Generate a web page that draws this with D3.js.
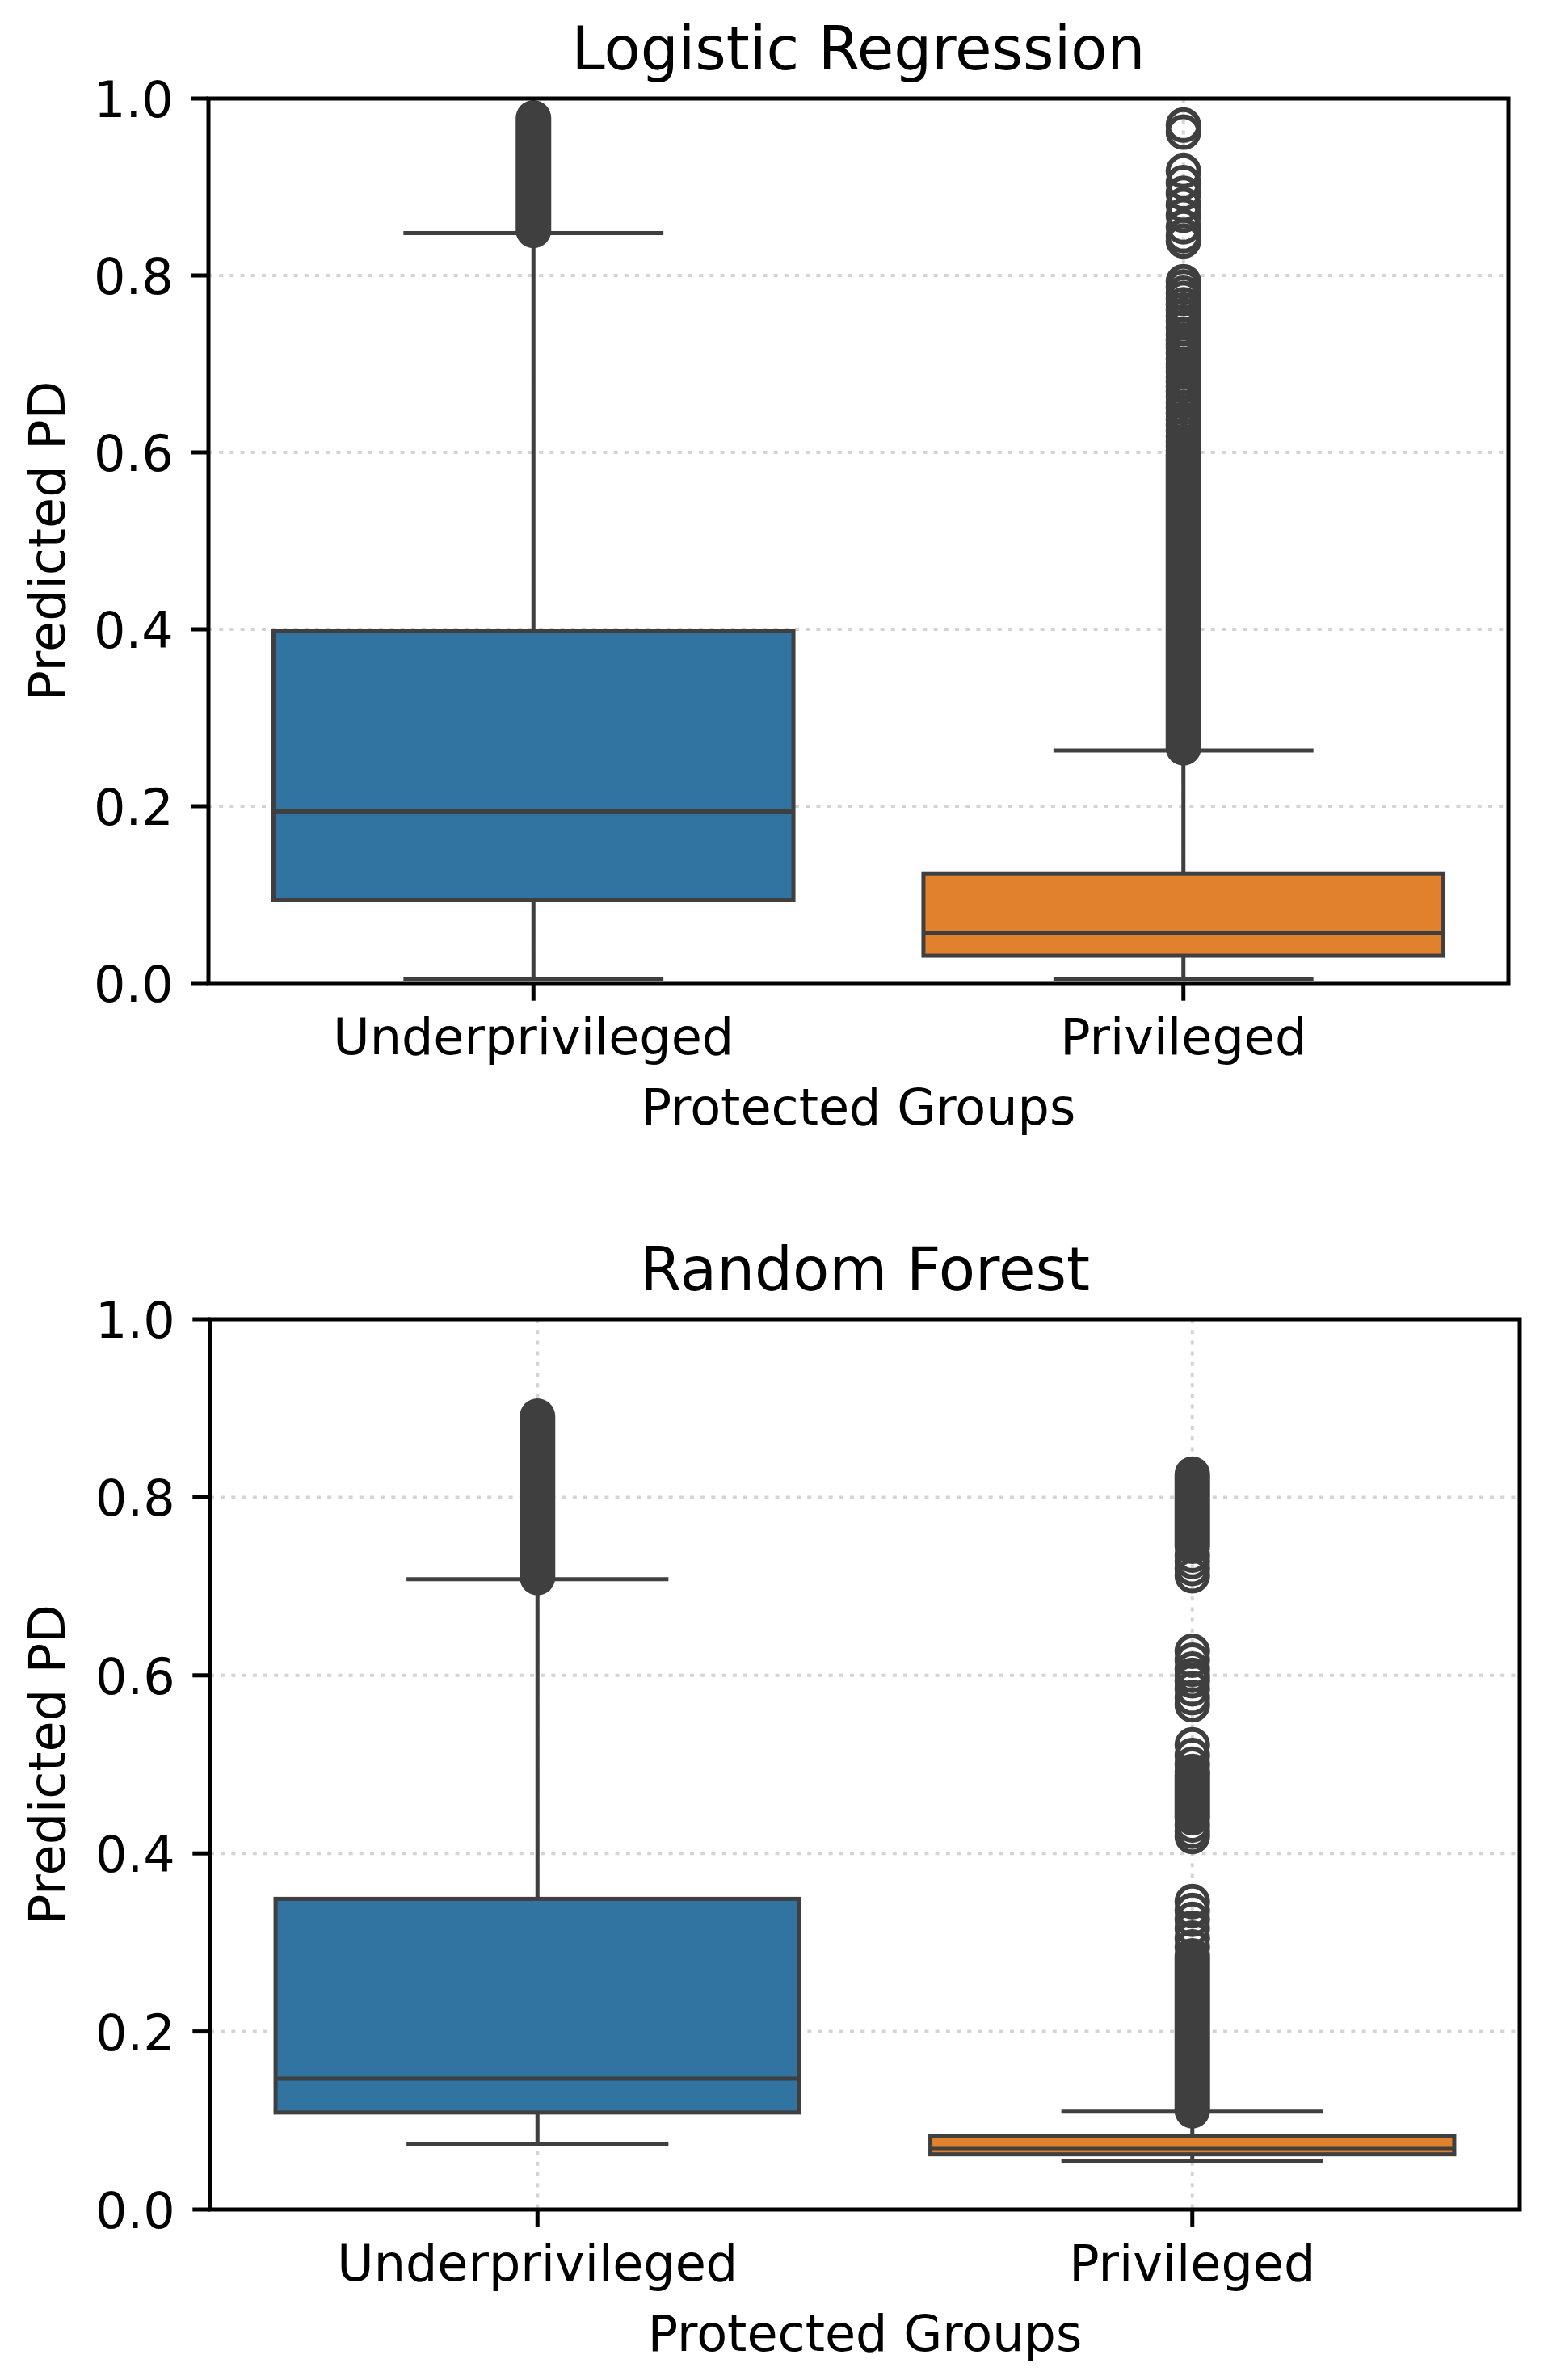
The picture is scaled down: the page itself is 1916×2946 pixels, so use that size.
<!DOCTYPE html>
<html>
<head>
<meta charset="utf-8">
<script src="https://cdn.jsdelivr.net/npm/d3@7"></script>
<style>
  body { margin: 0; background: #fff; }
  text { font-family: "DejaVu Sans", sans-serif; fill: #000; }
</style>
</head>
<body>
<div id="chart"></div>
<script>

// categories and ticks
var groups = ["Underprivileged", "Privileged"];
var yTicks = [0, 0.2, 0.4, 0.6, 0.8, 1.0];

// Logistic Regression box stats (Underprivileged, Privileged)
var lrWhiskerLow  = [0.005, 0.005];
var lrQ1          = [0.094, 0.031];
var lrMedian      = [0.194, 0.057];
var lrQ3          = [0.398, 0.124];
var lrWhiskerHigh = [0.848, 0.263];

// Logistic Regression outliers: single points and dense runs [low, high]
var lrOutliersUnder = [];
var lrDenseUnder    = [[0.851, 0.978]];
var lrOutliersPriv  = [0.970, 0.962, 0.918, 0.905, 0.893, 0.880, 0.868, 0.855, 0.845, 0.839,
                       0.793, 0.787, 0.780, 0.774, 0.767, 0.761, 0.754, 0.748, 0.741, 0.733,
                       0.727, 0.722, 0.718, 0.712, 0.706, 0.700, 0.696, 0.691, 0.685, 0.680,
                       0.675, 0.669, 0.663, 0.657, 0.651, 0.644, 0.637, 0.631, 0.625, 0.618,
                       0.612, 0.607, 0.602];
var lrDensePriv     = [[0.266, 0.598]];

// Random Forest box stats
var rfWhiskerLow  = [0.074, 0.054];
var rfQ1          = [0.109, 0.062];
var rfMedian      = [0.147, 0.069];
var rfQ3          = [0.349, 0.083];
var rfWhiskerHigh = [0.708, 0.110];

// Random Forest outliers
var rfOutliersUnder = [];
var rfDenseUnder    = [[0.710, 0.891]];
var rfOutliersPriv  = [0.735, 0.728, 0.720, 0.712,
                       0.627, 0.617, 0.607, 0.600, 0.594, 0.585, 0.575, 0.567,
                       0.522, 0.510, 0.500, 0.492, 0.432, 0.425, 0.419,
                       0.346, 0.336, 0.326, 0.316, 0.305, 0.295];
var rfDensePriv     = [[0.745, 0.826], [0.440, 0.488], [0.111, 0.285]];

var boxColors = ["#3274a1", "#e1812c"];
var lineColor = "#3f3f3f";

var svg = d3.select("#chart").append("svg")
    .attr("width", 1916)
    .attr("height", 2946);

svg.append("rect").attr("width", 1916).attr("height", 2946).attr("fill", "#fff");

function drawPanel(p) {
  var x = d3.scalePoint().domain(groups).range([p.left, p.right]).padding(0.5);
  var y = d3.scaleLinear().domain([0, 1]).range([p.bottom, p.top]);
  var boxW = x.step() * 0.8;
  var capW = boxW / 2;
  var lw = 5;
  var r = 19;
  var flierLw = 6;

  var g = svg.append("g");

  var clipId = "clip" + p.id;
  svg.append("clipPath").attr("id", clipId)
    .append("rect")
      .attr("x", p.left).attr("y", p.top)
      .attr("width", p.right - p.left).attr("height", p.bottom - p.top);

  // dotted grid
  g.append("g").selectAll("line")
    .data(yTicks.slice(1, -1))
    .enter().append("line")
      .attr("x1", p.left).attr("x2", p.right)
      .attr("y1", function(d) { return y(d); })
      .attr("y2", function(d) { return y(d); })
      .attr("stroke", "#b0b0b0").attr("stroke-opacity", 0.55)
      .attr("stroke-width", 4).attr("stroke-dasharray", "5,8.2");
  g.append("g").selectAll("line")
    .data(groups)
    .enter().append("line")
      .attr("x1", function(d) { return x(d); })
      .attr("x2", function(d) { return x(d); })
      .attr("y1", p.top).attr("y2", p.bottom)
      .attr("stroke", "#b0b0b0").attr("stroke-opacity", 0.55)
      .attr("stroke-width", 4).attr("stroke-dasharray", "5,8.2");

  var stats = groups.map(function(name, i) {
    return {name: name, lo: p.whiskerLow[i], q1: p.q1[i], med: p.median[i],
            q3: p.q3[i], hi: p.whiskerHigh[i], color: boxColors[i]};
  });

  var box = g.append("g").attr("clip-path", "url(#" + clipId + ")")
    .selectAll("g").data(stats).enter().append("g");

  // whiskers
  box.append("line")
      .attr("x1", function(d) { return x(d.name); })
      .attr("x2", function(d) { return x(d.name); })
      .attr("y1", function(d) { return y(d.q1); })
      .attr("y2", function(d) { return y(d.lo); })
      .attr("stroke", lineColor).attr("stroke-width", lw);
  box.append("line")
      .attr("x1", function(d) { return x(d.name); })
      .attr("x2", function(d) { return x(d.name); })
      .attr("y1", function(d) { return y(d.q3); })
      .attr("y2", function(d) { return y(d.hi); })
      .attr("stroke", lineColor).attr("stroke-width", lw);
  // caps
  ["lo", "hi"].forEach(function(k) {
    box.append("line")
        .attr("x1", function(d) { return x(d.name) - capW / 2; })
        .attr("x2", function(d) { return x(d.name) + capW / 2; })
        .attr("y1", function(d) { return y(d[k]); })
        .attr("y2", function(d) { return y(d[k]); })
        .attr("stroke", lineColor).attr("stroke-width", lw);
  });
  // box
  box.append("rect")
      .attr("x", function(d) { return x(d.name) - boxW / 2; })
      .attr("width", boxW)
      .attr("y", function(d) { return y(d.q3); })
      .attr("height", function(d) { return y(d.q1) - y(d.q3); })
      .attr("fill", function(d) { return d.color; })
      .attr("stroke", lineColor).attr("stroke-width", lw);
  // median
  box.append("line")
      .attr("x1", function(d) { return x(d.name) - boxW / 2; })
      .attr("x2", function(d) { return x(d.name) + boxW / 2; })
      .attr("y1", function(d) { return y(d.med); })
      .attr("y2", function(d) { return y(d.med); })
      .attr("stroke", lineColor).attr("stroke-width", lw);

  // outliers
  var fl = g.append("g").attr("clip-path", "url(#" + clipId + ")");
  groups.forEach(function(name, i) {
    fl.append("g").selectAll("line")
      .data(p.dense[i])
      .enter().append("line")
        .attr("x1", x(name)).attr("x2", x(name))
        .attr("y1", function(d) { return y(d[0]); })
        .attr("y2", function(d) { return y(d[1]); })
        .attr("stroke", lineColor).attr("stroke-width", 2 * r + flierLw)
        .attr("stroke-linecap", "round");
    fl.append("g").selectAll("circle")
      .data(p.outliers[i])
      .enter().append("circle")
        .attr("cx", x(name))
        .attr("cy", function(d) { return y(d); })
        .attr("r", r)
        .attr("fill", "none")
        .attr("stroke", lineColor).attr("stroke-width", flierLw);
  });

  // frame
  g.append("rect")
      .attr("x", p.left).attr("y", p.top)
      .attr("width", p.right - p.left).attr("height", p.bottom - p.top)
      .attr("fill", "none").attr("stroke", "#000").attr("stroke-width", 5);

  // y ticks
  var yt = g.append("g").selectAll("g").data(yTicks).enter().append("g");
  yt.append("line")
      .attr("x1", p.left - 21.7).attr("x2", p.left)
      .attr("y1", function(d) { return y(d); })
      .attr("y2", function(d) { return y(d); })
      .attr("stroke", "#000").attr("stroke-width", 5);
  yt.append("text")
      .attr("x", p.left - 43.4)
      .attr("y", function(d) { return y(d) + 23; })
      .attr("text-anchor", "end")
      .style("font-size", "62px")
      .text(function(d) { return d3.format(".1f")(d); });

  // x ticks
  var xt = g.append("g").selectAll("g").data(groups).enter().append("g");
  xt.append("line")
      .attr("x1", function(d) { return x(d); })
      .attr("x2", function(d) { return x(d); })
      .attr("y1", p.bottom).attr("y2", p.bottom + 21.7)
      .attr("stroke", "#000").attr("stroke-width", 5);
  xt.append("text")
      .attr("x", function(d) { return x(d); })
      .attr("y", p.bottom + 88)
      .attr("text-anchor", "middle")
      .style("font-size", "62px")
      .text(function(d) { return d; });

  // labels and title
  g.append("text")
      .attr("x", (p.left + p.right) / 2)
      .attr("y", p.bottom + 175)
      .attr("text-anchor", "middle")
      .style("font-size", "62px")
      .text("Protected Groups");
  g.append("text")
      .attr("transform", "translate(80," + ((p.top + p.bottom) / 2) + ") rotate(-90)")
      .attr("text-anchor", "middle")
      .style("font-size", "62px")
      .text("Predicted PD");
  g.append("text")
      .attr("x", (p.left + p.right) / 2)
      .attr("y", p.top - 36)
      .attr("text-anchor", "middle")
      .style("font-size", "74px")
      .text(p.title);
}

drawPanel({
  id: "lr", title: "Logistic Regression",
  left: 258, right: 1867, top: 122, bottom: 1217,
  whiskerLow: lrWhiskerLow, q1: lrQ1, median: lrMedian, q3: lrQ3, whiskerHigh: lrWhiskerHigh,
  outliers: [lrOutliersUnder, lrOutliersPriv],
  dense: [lrDenseUnder, lrDensePriv]
});

drawPanel({
  id: "rf", title: "Random Forest",
  left: 260, right: 1881, top: 1633, bottom: 2735,
  whiskerLow: rfWhiskerLow, q1: rfQ1, median: rfMedian, q3: rfQ3, whiskerHigh: rfWhiskerHigh,
  outliers: [rfOutliersUnder, rfOutliersPriv],
  dense: [rfDenseUnder, rfDensePriv]
});

</script>
</body>
</html>
